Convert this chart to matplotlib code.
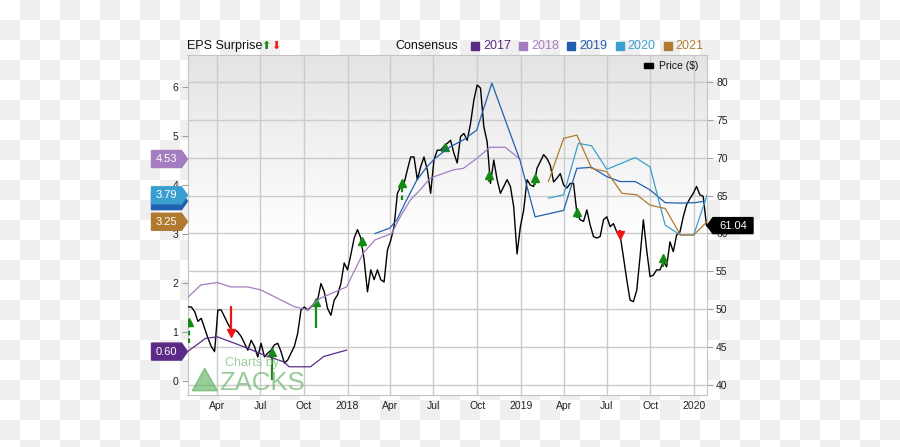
"""Kurs + konsensus EPS (styl Zacks), styczeń 2017 - styczeń 2020."""

import matplotlib
matplotlib.use("Agg")
import matplotlib.pyplot as plt
import matplotlib.dates as mdates
import numpy as np
import pandas as pd
from matplotlib.colors import ListedColormap
from matplotlib.patches import Polygon, Rectangle
from matplotlib.ticker import FuncFormatter
from matplotlib.transforms import IdentityTransform

plt.rcParams["font.family"] = ["Liberation Sans", "DejaVu Sans"]

# --- dane -----------------------------------------------------------------
price_dates = pd.date_range("2017-01-30", periods=157, freq="7D")
price_vals = [
    50.3, 50.3, 49.7, 48.4, 48.8, 47.5, 46.2, 45.1, 44.4, 49.9,
    49.9, 49.0, 48.1, 47.3, 47.3, 47.0, 46.4, 45.5, 44.6, 45.9,
    45.1, 43.7, 45.5, 43.7, 44.2, 44.6, 45.3, 45.5, 44.4, 42.9,
    43.3, 44.2, 45.1, 46.8, 49.9, 50.3, 49.9, 50.3, 50.8, 51.2,
    53.4, 52.3, 50.1, 49.2, 51.2, 51.9, 53.4, 56.1, 55.2, 57.2,
    59.4, 60.5, 59.4, 56.5, 52.3, 55.2, 53.9, 55.2, 53.9, 53.6,
    57.8, 59.1, 60.9, 65.3, 66.2, 66.6, 68.4, 70.1, 70.1, 67.1,
    68.8, 70.1, 68.4, 65.3, 69.7, 71.0, 71.0, 71.5, 71.9, 72.3,
    70.6, 69.3, 72.8, 73.2, 72.3, 74.5, 77.6, 79.6, 79.2, 74.1,
    72.1, 66.6, 69.7, 67.1, 65.3, 66.2, 67.1, 66.2, 63.5, 57.3,
    60.9, 63.1, 67.1, 66.4, 66.2, 68.6, 69.5, 70.4, 69.9, 69.0,
    66.8, 67.3, 67.9, 66.4, 66.0, 66.6, 66.6, 62.7, 61.8, 61.6,
    63.1, 61.1, 59.6, 59.4, 59.6, 61.8, 62.2, 60.9, 61.3, 60.2,
    59.8, 56.9, 53.9, 51.2, 51.0, 52.5, 56.9, 61.8, 57.8, 54.3,
    54.5, 55.2, 55.2, 56.3, 55.6, 58.9, 57.6, 59.8, 60.2, 62.2,
    63.8, 64.6, 65.3, 66.2, 65.1, 64.9, 61.04,
]
last_price = 61.04

years = ["2017", "2018", "2019", "2020", "2021"]
year_colors = ["#5b2a86", "#a47dc0", "#2160b0", "#3a9fd0", "#b07a30"]

cons_2017_dates = ["2017-01-29", "2017-03-08", "2017-04-02", "2017-04-30", "2017-06-04",
                   "2017-07-09", "2017-08-20", "2017-08-31", "2017-10-15", "2017-11-12",
                   "2017-12-30"]
cons_2017_vals = [0.60, 0.87, 0.90, 0.80, 0.67, 0.53, 0.39, 0.29, 0.29, 0.50, 0.63]

cons_2018_dates = ["2017-01-29", "2017-02-26", "2017-04-02", "2017-04-30", "2017-06-04",
                   "2017-07-02", "2017-08-06", "2017-09-10", "2017-10-08", "2017-11-05",
                   "2017-12-30", "2018-01-13", "2018-02-03", "2018-02-28", "2018-04-04",
                   "2018-04-22", "2018-05-13", "2018-06-03", "2018-06-24", "2018-08-12",
                   "2018-09-02", "2018-09-30", "2018-10-28", "2018-11-29", "2018-12-30"]
cons_2018_vals = [1.70, 1.96, 2.01, 1.92, 1.92, 1.86, 1.69, 1.52, 1.45, 1.69,
                  1.92, 2.20, 2.61, 2.88, 3.01, 3.35, 3.69, 3.90, 4.14, 4.31,
                  4.34, 4.54, 4.77, 4.77, 4.53]

cons_2019_dates = ["2018-02-28", "2018-03-31", "2018-04-15", "2018-05-02", "2018-05-27",
                   "2018-06-17", "2018-07-04", "2018-08-05", "2018-09-02", "2018-09-30",
                   "2018-11-01", "2018-11-29", "2018-12-30", "2019-01-31", "2019-03-04",
                   "2019-04-01", "2019-04-29", "2019-05-30", "2019-07-01", "2019-07-29",
                   "2019-08-30", "2019-09-30", "2019-11-01", "2019-12-03", "2020-01-03",
                   "2020-01-24"]
cons_2019_vals = [3.01, 3.12, 3.29, 3.63, 4.10, 4.37, 4.54, 4.78, 4.92, 5.12,
                  6.08, 5.33, 4.51, 3.35, 3.42, 3.48, 4.34, 4.36, 4.17, 4.07,
                  4.07, 3.90, 3.64, 3.63, 3.64, 3.67]

cons_2020_dates = ["2019-02-28", "2019-04-01", "2019-05-02", "2019-05-30", "2019-07-01",
                   "2019-08-30", "2019-09-30", "2019-11-01", "2019-12-03", "2019-12-31",
                   "2020-01-28"]
cons_2020_vals = [3.73, 3.80, 4.85, 4.80, 4.32, 4.56, 4.37, 3.18, 2.98, 2.98, 3.79]

cons_2021_dates = ["2019-02-28", "2019-04-01", "2019-04-29", "2019-05-30", "2019-07-01",
                   "2019-08-02", "2019-09-02", "2019-09-30", "2019-11-01", "2019-12-03",
                   "2019-12-31", "2020-01-28"]
cons_2021_vals = [4.07, 4.95, 5.02, 4.34, 4.27, 3.83, 3.80, 3.59, 3.52, 2.98, 2.98, 3.25]

# etykiety ostatniej wartości konsensusu (kolejność rysowania: 2019 pod 2020)
flag_vals = [0.60, 4.53, 3.67, 3.79, 3.25]
flag_years = ["2017", "2018", "2019", "2020", "2021"]

# EPS surprise: strzałka od ogona do grotu (w $ na osi kursu)
surprise_dates = ["2017-02-01", "2017-05-01", "2017-07-25", "2017-10-26", "2018-01-31",
                  "2018-04-25", "2018-07-25", "2018-10-25", "2019-01-31", "2019-04-29",
                  "2019-07-29", "2019-10-28"]
surprise_tail = [45.55, 50.43, 40.66, 47.49, 58.05, 64.42, 70.80, 66.84, 66.40, 62.05,
                 60.46, 55.58]
surprise_tip = [48.36, 46.83, 44.40, 51.00, 59.05, 66.63, 71.46, 67.72, 67.33, 62.88,
                59.80, 56.77]
surprise_dashed = [True, False, False, False, False, True, False, False, False, False,
                   False, False]

# --- układ (piksele obrazka 900x447) ---------------------------------------
W, H = 900, 447
PL, PR, PT, PB = 187.5, 707, 55, 395
GREEN, RED = "#138a13", "#f01414"


def fx(px):
    return px / W


def fy(py):
    return 1 - py / H


fig = plt.figure(figsize=(W / 100, H / 100), dpi=100)

# szachownica "przezroczystości" w tle
bg = fig.add_axes([0, 0, 1, 1], zorder=-3)
board = np.add.outer(np.arange(23), np.arange(45)) % 2
bg.imshow(board, cmap=ListedColormap(["white", "#efefef"]), extent=[0, 900, 460, 0],
          interpolation="nearest", aspect="auto")
bg.set_xlim(0, W); bg.set_ylim(H, 0); bg.axis("off")

pos = [fx(PL), fy(PB), (PR - PL) / W, (PB - PT) / H]

# gradient pola wykresu
grad_ax = fig.add_axes(pos, zorder=-2)
t = np.linspace(0, 1, 256)
shade = np.clip(0.89 + 0.11 * t / 0.55, 0, 1)
grad_ax.imshow(shade[:, None], cmap="gray", vmin=0, vmax=1, aspect="auto",
               extent=[0, 1, 0, 1])
grad_ax.axis("off")

ax = fig.add_axes(pos)
ax.set_facecolor("none")
ax_eps = ax.twinx()

# kurs
ax.plot(price_dates, price_vals, color="black", lw=1.0, zorder=3)

for d, tail, tip, dashed in zip(surprise_dates, surprise_tail, surprise_tip, surprise_dashed):
    d = pd.Timestamp(d)
    col = GREEN if tip > tail else RED
    ax.plot([d, d], [tail, tip], color=col, lw=1.6, ls=(0, (2, 1.5)) if dashed else "-",
            zorder=4, solid_capstyle="butt")
    ax.plot(d, tip, marker="^" if tip > tail else "v", ms=6, color=col, mec=col, zorder=4)

# konsensus
cons = [(cons_2017_dates, cons_2017_vals), (cons_2018_dates, cons_2018_vals),
        (cons_2019_dates, cons_2019_vals), (cons_2020_dates, cons_2020_vals),
        (cons_2021_dates, cons_2021_vals)]
for (dates, vals), col in zip(cons, year_colors):
    ax_eps.plot(pd.to_datetime(dates), vals, color=col, lw=0.9)

# osie
ax.set_xlim(pd.Timestamp("2017-01-29"), pd.Timestamp("2020-01-28"))
ax.set_ylim(38.68, 83.56)
ax_eps.set_ylim(-0.286, 6.653)
ax.set_yticks(range(40, 81, 5))
ax_eps.set_yticks(range(0, 7))

ax.xaxis.set_major_locator(mdates.MonthLocator(bymonth=[1, 4, 7, 10]))
ax.xaxis.set_major_formatter(FuncFormatter(
    lambda x, p: str(mdates.num2date(x).year) if mdates.num2date(x).month == 1
    else mdates.num2date(x).strftime("%b")))
ax.grid(True, color="#cbcbcb", lw=1)
ax.set_axisbelow(True)

ax.yaxis.tick_right()
ax_eps.yaxis.tick_left()
ax.tick_params(axis="x", length=0, pad=4, labelsize=7.5, labelcolor="#222222")
for a in (ax, ax_eps):
    a.tick_params(axis="y", length=4.5, width=0.8, color="#a0a0a0", pad=2,
                  labelsize=7.5, labelcolor="#222222")
for s in ax.spines.values():
    s.set_color("#c4c4c4")
for s in ax_eps.spines.values():
    s.set_visible(False)

# --- etykiety wartości (chorągiewki), każda kolejna przykrywa poprzednią ----
x_left = ax.transAxes.transform((0, 0))[0]
x_right = ax.transAxes.transform((1, 0))[0]
for i, (val, yr) in enumerate(zip(flag_vals, flag_years)):
    col = year_colors[years.index(yr)]
    y = ax_eps.transData.transform((0, val))[1]
    verts = [(x_left - 36, y - 8.5), (x_left - 6, y - 8.5), (x_left, y),
             (x_left - 6, y + 8.5), (x_left - 36, y + 8.5)]
    fig.add_artist(Polygon(verts, closed=True, color=col, transform=IdentityTransform(),
                           zorder=10 + 2 * i))
    fig.add_artist(plt.Text(x_left - 21, y, f"{val:.2f}", color="white", fontsize=8,
                            ha="center", va="center", transform=IdentityTransform(),
                            zorder=11 + 2 * i))

y = ax.transData.transform((0, last_price))[1]
verts = [(x_right, y), (x_right + 6, y + 8), (x_right + 46, y + 8),
         (x_right + 46, y - 8), (x_right + 6, y - 8)]
fig.add_artist(Polygon(verts, closed=True, color="black", transform=IdentityTransform(),
                       zorder=10))
fig.add_artist(plt.Text(x_right + 26, y, f"{last_price:.2f}", color="white", fontsize=8,
                        ha="center", va="center", transform=IdentityTransform(), zorder=11))

# --- nagłówek / legenda ---------------------------------------------------
fig.text(fx(187), fy(46), "EPS Surprise", fontsize=9, va="center", color="#111111")
fig.text(fx(261), fy(46), "\u2B06", fontsize=8, va="center", color=GREEN)
fig.text(fx(271), fy(46), "\u2B07", fontsize=8, va="center", color=RED)
fig.text(fx(395), fy(46), "Consensus", fontsize=9, va="center", color="#111111")
for i, (yr, col) in enumerate(zip(years, year_colors)):
    x0 = 471 + i * 48.2
    fig.add_artist(Rectangle((fx(x0), fy(50)), 8 / W, 8 / H, color=col,
                             transform=fig.transFigure))
    fig.text(fx(x0 + 12), fy(46), yr, fontsize=9, va="center", color=col)

fig.add_artist(Rectangle((fx(644), fy(68)), 9 / W, 5 / H, color="black",
                         transform=fig.transFigure, zorder=10))
fig.text(fx(659), fy(66), "Price ($)", fontsize=7.5, va="center", color="#111111",
         zorder=10)

# --- znak wodny Zacks -----------------------------------------------------
fig.add_artist(Polygon([(fx(204.7), fy(368.3)), (fx(192.3), fy(390.7)),
                        (fx(217.3), fy(390.7))], closed=True, color="#55ad55",
                       alpha=0.6, transform=fig.transFigure, zorder=9))
fig.text(fx(225), fy(363), "Charts by", fontsize=9, va="center", color="#8cc48c",
         alpha=0.85, zorder=9)
fig.text(fx(219), fy(390), "ZACKS", fontsize=18.5, va="baseline", color="#6db36d",
         alpha=0.7, zorder=9)

fig.savefig("out.png", dpi=100)
